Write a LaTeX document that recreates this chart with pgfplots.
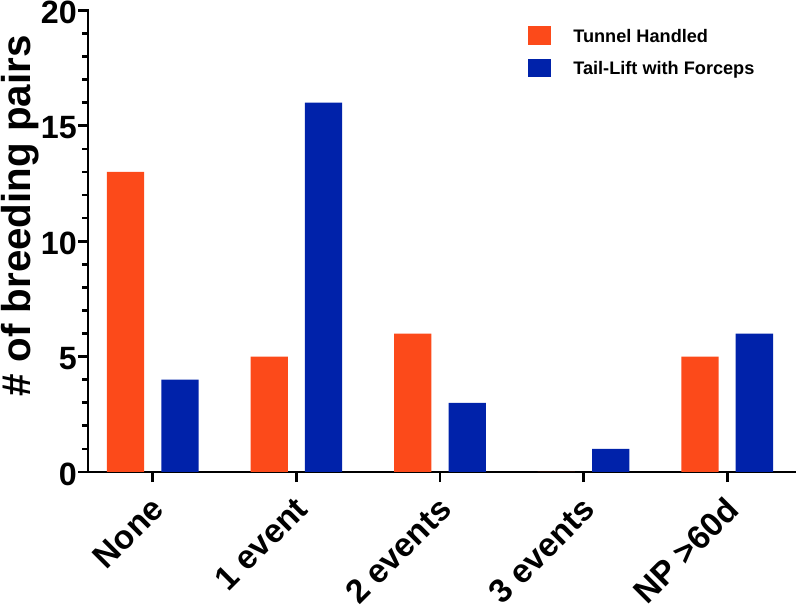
\documentclass[border=0pt]{standalone}
\usepackage{pgfplots}
\pgfplotsset{compat=1.18}
\usepackage{fontspec}
\setmainfont{Liberation Sans}
\definecolor{thorange}{RGB}{252,74,26}
\definecolor{tlblue}{RGB}{0,34,170}
\begin{document}
\begin{tikzpicture}
\begin{axis}[
  scale only axis, width=701pt, height=458pt,
  ymin=0, ymax=20, xmin=-0.45, xmax=4.47,
  axis lines=left,
  axis line style={-, line width=2.7pt, line cap=rect},
  ytick={0,5,10,15,20}, minor y tick num=4,
  xtick={0,1,2,3,4},
  xticklabels={None,1 event,2 events,3 events,NP >60d},
  tick align=outside, tickpos=left,
  every tick/.style={black, line width=2.7pt},
  major tick length=10pt, minor tick length=6pt,
  /pgf/number format/assume math mode=true,
  y tick label style={font=\fontsize{32}{36}\selectfont\bfseries, inner sep=1pt,
    yshift=-2pt},
  x tick label style={rotate=45, anchor=north east, xshift=-8pt, yshift=-3.5pt,
    font=\fontsize{33}{38}\selectfont\bfseries},
  ylabel={\# of breeding pairs},
  ylabel style={at={(ticklabel cs:0.555)}, inner sep=1pt,
    font=\fontsize{40}{44}\selectfont\bfseries},
  legend style={draw=none, fill=none, at={(0.618,0.97)}, anchor=north west,
    font=\fontsize{18}{22}\selectfont\bfseries, row sep=13pt, column sep=20pt},
  legend cell align=left,
  legend image code/.code={\fill[#1] (0pt,-8pt) rectangle (23pt,10pt);},
]
\addplot[ybar, bar width=37pt, bar shift=-27pt, fill=thorange, draw=none]
  coordinates {(0,13) (1,5) (2,6) (3,0) (4,5)};
\addplot[ybar, bar width=37pt, bar shift=27pt, fill=tlblue, draw=none]
  coordinates {(0,4) (1,16) (2,3) (3,1) (4,6)};
\legend{Tunnel Handled, Tail-Lift with Forceps}
\path (rel axis cs:0,1) ++(0,14pt);
\end{axis}
\end{tikzpicture}
\end{document}
